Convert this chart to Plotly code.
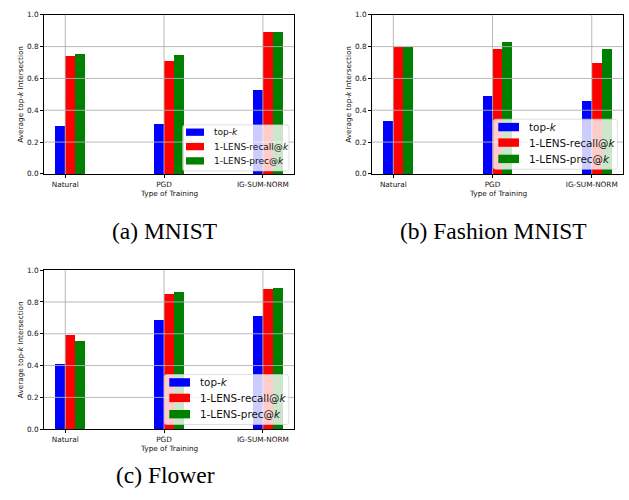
import plotly.graph_objects as go

# ---- data -------------------------------------------------------------
categories = ["Natural", "PGD", "IG-SUM-NORM"]
series_labels = ["top-<i>k</i>", "1-LENS-recall@<i>k</i>", "1-LENS-prec@<i>k</i>"]

mnist_topk = [0.302, 0.315, 0.531]
mnist_recall = [0.743, 0.710, 0.895]
mnist_prec = [0.753, 0.747, 0.895]

fashion_topk = [0.333, 0.494, 0.457]
fashion_recall = [0.800, 0.784, 0.698]
fashion_prec = [0.798, 0.833, 0.784]

flower_topk = [0.407, 0.685, 0.710]
flower_recall = [0.593, 0.852, 0.883]
flower_prec = [0.556, 0.864, 0.889]

y_ticks = [0.0, 0.2, 0.4, 0.6, 0.8, 1.0]
captions = ["(a) MNIST", "(b) Fashion MNIST", "(c) Flower"]
x_title = "Type of Training"
y_title = "Average top-<i>k</i> Intersection"

# ---- styling ----------------------------------------------------------
W, H = 629, 500
colors = ["#0000ff", "#ff0000", "#008000"]
bar_width = 0.1
bar_offsets = [-0.1, 0.0, 0.1]
x_positions = list(range(len(categories)))
x_range = [-0.215, 2.315]
axis_font = dict(family="DejaVu Sans", size=7.3, color="#111111")
grid_color = "#b0b0b0"

# pixel boxes of the three axes: (left, top, right, bottom)
panel_boxes = [(44, 11, 294, 173), (372, 11, 623, 173), (44, 271, 294, 433)]
# legend geometry per panel, in pixels measured from the axes' bottom-right corner
legend_styles = [
    dict(font=9.0, box=(111.3, 5.0, 3.0, 49.0), handle_x=(108.0, 90.0), handle_h=7.3,
         rows=(41.7, 27.3, 13.0), text_x=82.0),
    dict(font=10.4, box=(129.7, 5.6, 4.7, 54.7), handle_x=(124.7, 104.0), handle_h=8.4,
         rows=(46.8, 31.3, 15.0), text_x=95.6),
    dict(font=10.4, box=(129.7, 5.3, 4.7, 54.7), handle_x=(124.7, 104.0), handle_h=8.4,
         rows=(46.8, 31.3, 15.0), text_x=95.6),
]
caption_pos = [(164.5, 231), (493, 231), (165, 480)]

datasets = [
    (mnist_topk, mnist_recall, mnist_prec),
    (fashion_topk, fashion_recall, fashion_prec),
    (flower_topk, flower_recall, flower_prec),
]

fig = go.Figure()
shapes = []
annotations = []
layout_axes = {}

for i, (series, box, lg) in enumerate(zip(datasets, panel_boxes, legend_styles)):
    n = "" if i == 0 else str(i + 1)
    xa, ya = "x" + n, "y" + n
    left, top, right, bottom = box

    for vals, color, off, name in zip(series, colors, bar_offsets, series_labels):
        fig.add_trace(go.Bar(
            x=x_positions, y=vals, width=bar_width, offset=off,
            marker=dict(color=color, line=dict(width=0)),
            name=name, showlegend=False, xaxis=xa, yaxis=ya,
        ))

    common = dict(
        showline=True, linecolor="#000000", linewidth=1, mirror=True,
        ticks="outside", ticklen=3, tickwidth=0.8, tickcolor="#000000",
        tickfont=axis_font, showgrid=False, zeroline=False, layer="above traces",
    )
    layout_axes["xaxis" + n] = dict(
        common, domain=[left / W, right / W], anchor=ya, range=x_range,
        tickmode="array", tickvals=x_positions, ticktext=categories,
    )
    layout_axes["yaxis" + n] = dict(
        common, domain=[1 - bottom / H, 1 - top / H], anchor=xa, range=[0, 1.0],
        tickmode="array", tickvals=y_ticks, tickformat=".1f",
    )

    # grid drawn over the bars
    for v in y_ticks[1:-1]:
        shapes.append(dict(type="line", xref=xa + " domain", yref=ya, x0=0, x1=1, y0=v, y1=v,
                           line=dict(color=grid_color, width=0.9), layer="above"))
    for v in x_positions:
        shapes.append(dict(type="line", xref=xa, yref=ya + " domain", x0=v, x1=v, y0=0, y1=1,
                           line=dict(color=grid_color, width=0.9), layer="above"))

    # axis titles
    annotations.append(dict(text=x_title, xref=xa + " domain", yref=ya + " domain",
                            x=0.5, y=0, yshift=-19.5, showarrow=False,
                            xanchor="center", yanchor="middle", font=axis_font))
    annotations.append(dict(text=y_title, xref=xa + " domain", yref=ya + " domain",
                            x=0, y=0.5, xshift=-23.5, showarrow=False, textangle=-90,
                            xanchor="center", yanchor="middle", font=axis_font))

    # legend frame (rounded, translucent)
    bl, br, bb, bt = lg["box"]
    r = 2.5
    path = (f"M{-bl + r},{bb} L{-br - r},{bb} Q{-br},{bb} {-br},{bb + r} "
            f"L{-br},{bt - r} Q{-br},{bt} {-br - r},{bt} "
            f"L{-bl + r},{bt} Q{-bl},{bt} {-bl},{bt - r} "
            f"L{-bl},{bb + r} Q{-bl},{bb} {-bl + r},{bb} Z")
    shapes.append(dict(type="path", path=path, xref=xa + " domain", yref=ya + " domain",
                       xsizemode="pixel", ysizemode="pixel", xanchor=1, yanchor=0,
                       fillcolor="rgba(255,255,255,0.8)",
                       line=dict(color="rgba(204,204,204,0.8)", width=0.8), layer="above"))
    hx0, hx1 = lg["handle_x"]
    hh = lg["handle_h"]
    for row, color, name in zip(lg["rows"], colors, series_labels):
        shapes.append(dict(type="rect", xref=xa + " domain", yref=ya + " domain",
                           xsizemode="pixel", ysizemode="pixel", xanchor=1, yanchor=0,
                           x0=-hx0, x1=-hx1, y0=row - hh / 2, y1=row + hh / 2,
                           fillcolor=color, line=dict(width=0), layer="above"))
        annotations.append(dict(text=name, xref=xa + " domain", yref=ya + " domain",
                                x=1, y=0, xshift=-lg["text_x"], yshift=row,
                                xanchor="left", yanchor="middle", showarrow=False,
                                font=dict(family="DejaVu Sans", size=lg["font"], color="#111111")))

# sub-figure captions
for text, (cx, cy) in zip(captions, caption_pos):
    annotations.append(dict(text=text, xref="paper", yref="paper", x=cx / W, y=1 - cy / H,
                            xanchor="center", yanchor="middle", showarrow=False,
                            font=dict(family="Liberation Serif", size=23.5, color="#000000")))

fig.update_layout(
    width=W, height=H, margin=dict(l=0, r=0, t=0, b=0),
    paper_bgcolor="white", plot_bgcolor="white",
    barmode="overlay", bargap=0,
    shapes=shapes, annotations=annotations,
    **layout_axes,
)

fig.write_html("out.html")
